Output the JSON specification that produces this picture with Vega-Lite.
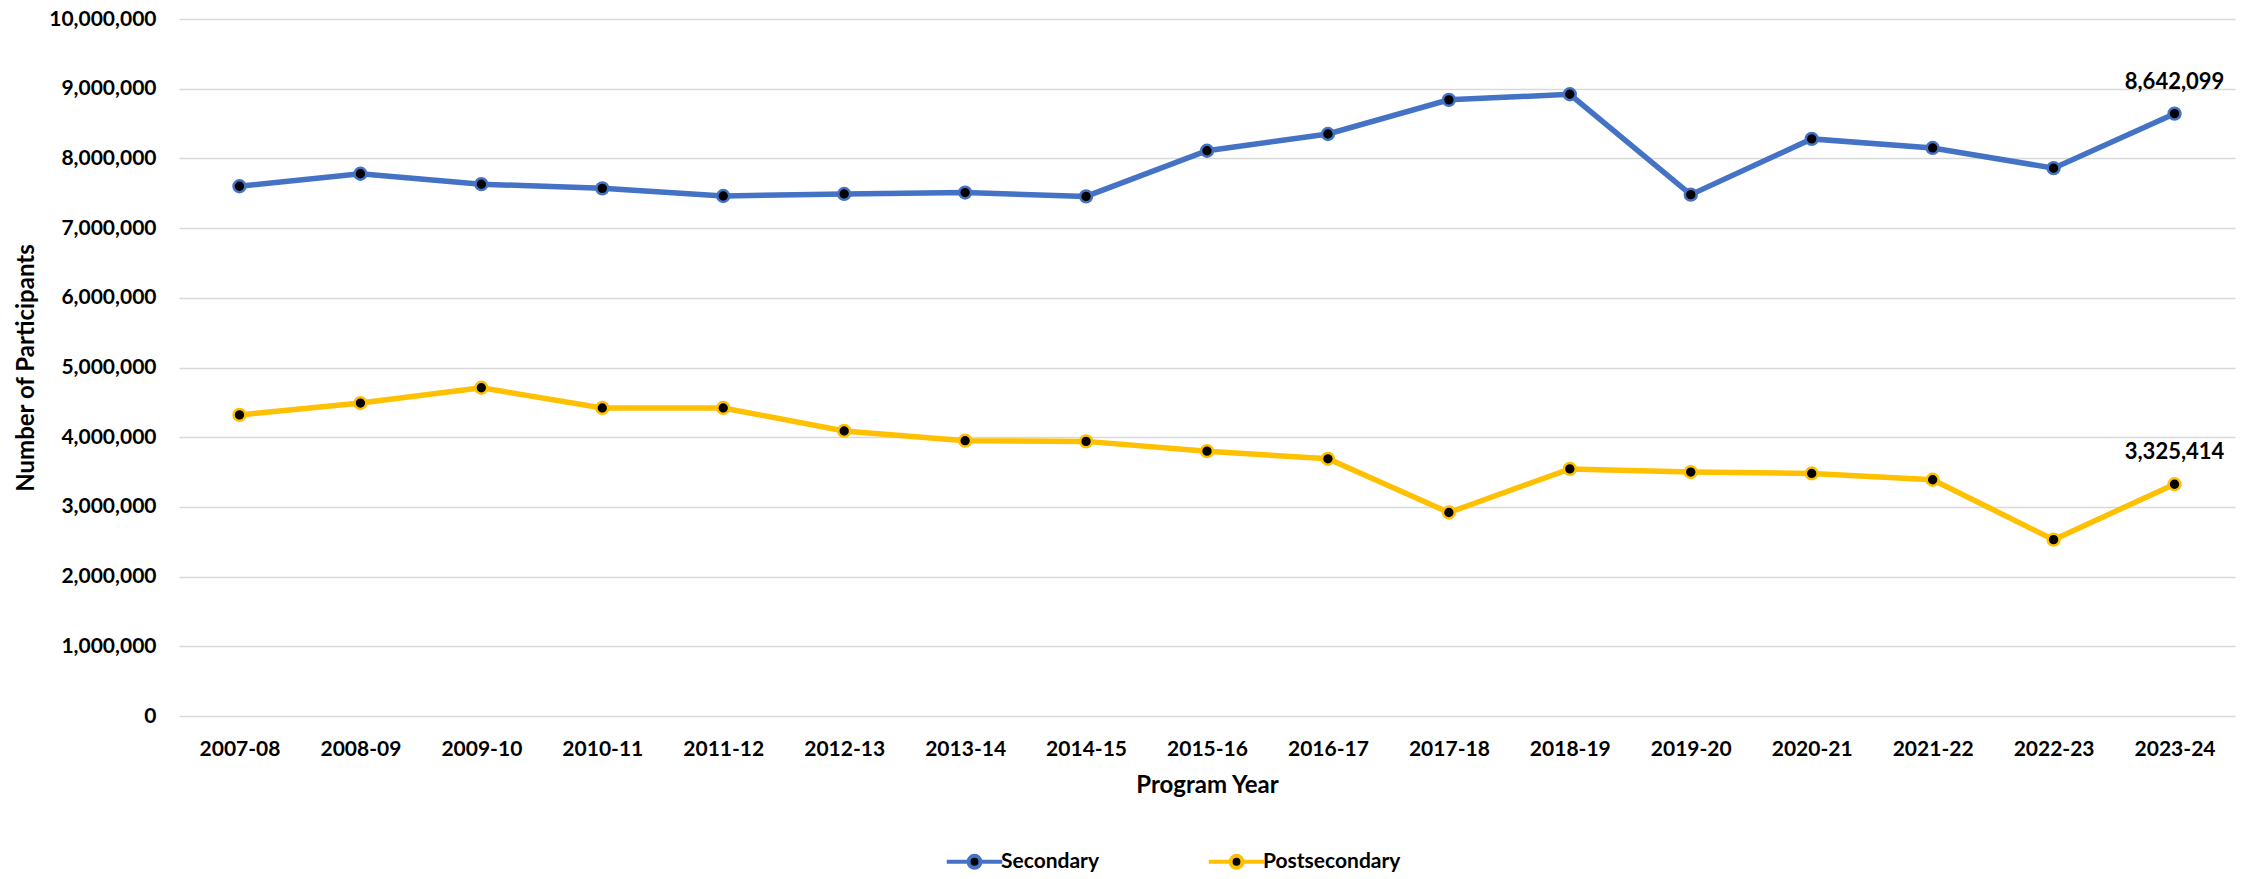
{
  "$schema": "https://vega.github.io/schema/vega-lite/v6.json",
  "width": 2056,
  "height": 697,
  "autosize": "none",
  "padding": {"left": 179, "top": 19, "right": 17, "bottom": 163},
  "background": "white",
  "config": {
    "font": "Lato",
    "view": {"stroke": null},
    "axis": {
      "labelFont": "Lato", "labelFontWeight": "bold", "labelFontSize": 21, "labelColor": "black",
      "titleFont": "Lato", "titleFontWeight": "bold", "titleFontSize": 24, "titleColor": "black",
      "ticks": false, "domain": false
    }
  },
  "data": {
    "values": [
      {"year": "2007-08", "level": "Secondary", "value": 7600000},
      {"year": "2008-09", "level": "Secondary", "value": 7780000},
      {"year": "2009-10", "level": "Secondary", "value": 7630000},
      {"year": "2010-11", "level": "Secondary", "value": 7570000},
      {"year": "2011-12", "level": "Secondary", "value": 7460000},
      {"year": "2012-13", "level": "Secondary", "value": 7490000},
      {"year": "2013-14", "level": "Secondary", "value": 7510000},
      {"year": "2014-15", "level": "Secondary", "value": 7455000},
      {"year": "2015-16", "level": "Secondary", "value": 8110000},
      {"year": "2016-17", "level": "Secondary", "value": 8350000},
      {"year": "2017-18", "level": "Secondary", "value": 8840000},
      {"year": "2018-19", "level": "Secondary", "value": 8920000},
      {"year": "2019-20", "level": "Secondary", "value": 7480000},
      {"year": "2020-21", "level": "Secondary", "value": 8280000},
      {"year": "2021-22", "level": "Secondary", "value": 8150000},
      {"year": "2022-23", "level": "Secondary", "value": 7860000},
      {"year": "2023-24", "level": "Secondary", "value": 8642099},
      {"year": "2007-08", "level": "Postsecondary", "value": 4320000},
      {"year": "2008-09", "level": "Postsecondary", "value": 4490000},
      {"year": "2009-10", "level": "Postsecondary", "value": 4710000},
      {"year": "2010-11", "level": "Postsecondary", "value": 4420000},
      {"year": "2011-12", "level": "Postsecondary", "value": 4420000},
      {"year": "2012-13", "level": "Postsecondary", "value": 4090000},
      {"year": "2013-14", "level": "Postsecondary", "value": 3950000},
      {"year": "2014-15", "level": "Postsecondary", "value": 3940000},
      {"year": "2015-16", "level": "Postsecondary", "value": 3800000},
      {"year": "2016-17", "level": "Postsecondary", "value": 3690000},
      {"year": "2017-18", "level": "Postsecondary", "value": 2920000},
      {"year": "2018-19", "level": "Postsecondary", "value": 3545000},
      {"year": "2019-20", "level": "Postsecondary", "value": 3500000},
      {"year": "2020-21", "level": "Postsecondary", "value": 3480000},
      {"year": "2021-22", "level": "Postsecondary", "value": 3390000},
      {"year": "2022-23", "level": "Postsecondary", "value": 2530000},
      {"year": "2023-24", "level": "Postsecondary", "value": 3325414}
    ]
  },
  "encoding": {
    "x": {
      "field": "year", "type": "ordinal", "sort": null,
      "scale": {"padding": 0.5},
      "axis": {"labelAngle": 0, "labelPadding": 22, "title": "Program Year", "titlePadding": 14, "grid": false}
    },
    "y": {
      "field": "value", "type": "quantitative",
      "scale": {"domain": [0, 10000000], "nice": false},
      "axis": {"values": [0,1000000,2000000,3000000,4000000,5000000,6000000,7000000,8000000,9000000,10000000], "labelExpr": "format(datum.value, ',')", "labelPadding": 23, "title": "Number of Participants", "titlePadding": 10, "grid": true, "gridColor": "#D9D9D9", "gridWidth": 1.5}
    }
  },
  "layer": [
    {
      "mark": {"type": "line", "strokeWidth": 5.5},
      "encoding": {
        "stroke": {
          "field": "level", "type": "nominal",
          "scale": {"domain": ["Secondary", "Postsecondary"], "range": ["#4472C4", "#FFC000"]},
          "legend": {
            "title": null, "orient": "none", "direction": "horizontal", "legendX": 775, "legendY": 822, "padding": 0,
            "labelFont": "Lato", "labelFontWeight": "bold", "labelFontSize": 21, "labelColor": "black",
            "symbolType": "M-1.5,0L-0.32,0M0.32,0L1.5,0M0.32,0A0.32,0.32 0 1 1 -0.32,0A0.32,0.32 0 1 1 0.32,0Z",
            "symbolSize": 1369, "symbolStrokeWidth": 4, "columnPadding": 100, "labelOffset": 6,
            "encode": {"symbols": {"update": {"fill": {"value": "black"}, "opacity": {"value": 1}}}}
          }
        }
      }
    },
    {
      "mark": {"type": "point", "filled": false, "fill": "black", "fillOpacity": 1, "opacity": 1, "size": 140, "strokeWidth": 2.5},
      "encoding": {
        "stroke": {
          "field": "level", "type": "nominal",
          "scale": {"domain": ["Secondary", "Postsecondary"], "range": ["#4472C4", "#FFC000"]},
          "legend": null
        },
        "color": {
          "field": "level", "type": "nominal",
          "scale": {"domain": ["Secondary", "Postsecondary"], "range": ["#4472C4", "#ED7D31"]},
          "legend": null
        }
      }
    },
    {
      "transform": [{"filter": "datum.year === '2023-24'"}],
      "mark": {"type": "text", "font": "Lato", "fontWeight": "bold", "fontSize": 22, "color": "black", "baseline": "alphabetic", "dy": -25},
      "encoding": {
        "text": {"field": "value", "type": "quantitative", "format": ","}
      }
    }
  ]
}
